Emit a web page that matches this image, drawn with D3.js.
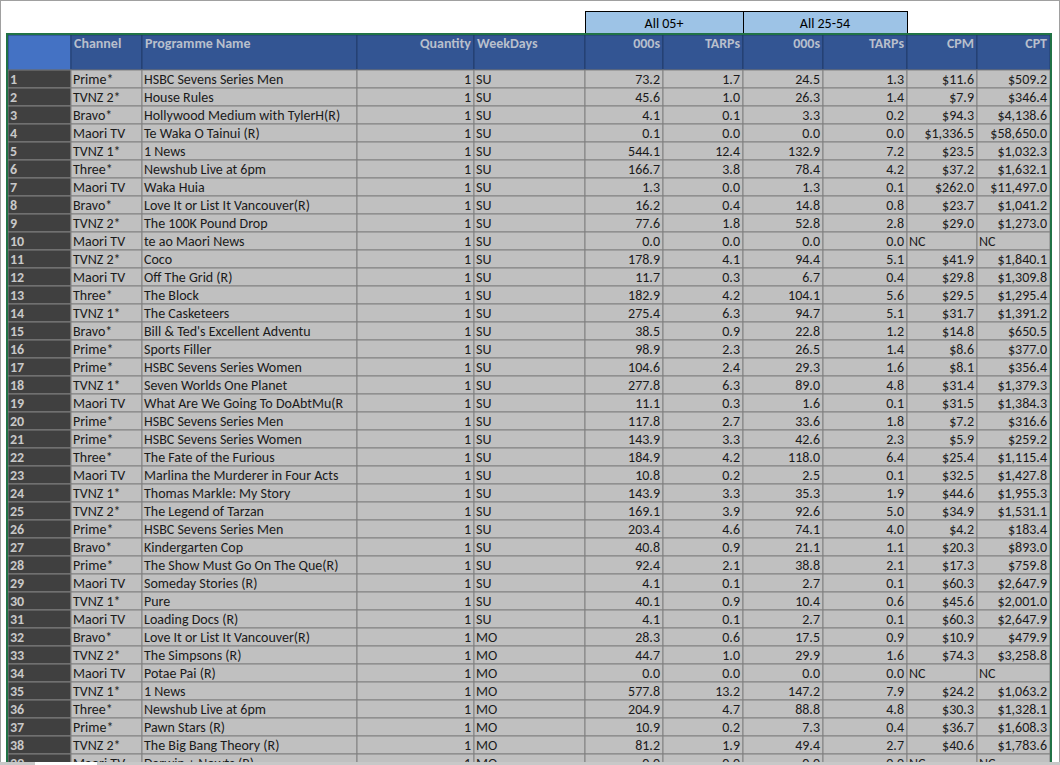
<!DOCTYPE html>
<html><head><meta charset="utf-8">
<script src="https://cdn.jsdelivr.net/npm/d3@7"></script>
<style>
html,body{margin:0;padding:0;background:#fff;overflow:hidden}
svg{display:block;font-family:Carlito,Calibri,Lato,"Open Sans",sans-serif}
</style></head><body>
<div id="chart"></div>
<script>
// table data
const channels = ['Prime*','TVNZ 2*','Bravo*','Maori TV','TVNZ 1*','Three*','Maori TV','Bravo*','TVNZ 2*','Maori TV',
  'TVNZ 2*','Maori TV','Three*','TVNZ 1*','Bravo*','Prime*','Prime*','TVNZ 1*','Maori TV','Prime*',
  'Prime*','Three*','Maori TV','TVNZ 1*','TVNZ 2*','Prime*','Bravo*','Prime*','Maori TV','TVNZ 1*',
  'Maori TV','Bravo*','TVNZ 2*','Maori TV','TVNZ 1*','Three*','Prime*','TVNZ 2*','Maori TV'];
const programmes = ['HSBC Sevens Series Men','House Rules','Hollywood Medium with TylerH(R)','Te Waka O Tainui (R)','1 News',
  'Newshub Live at 6pm','Waka Huia','Love It or List It Vancouver(R)','The 100K Pound Drop','te ao Maori News',
  'Coco','Off The Grid (R)','The Block','The Casketeers','Bill & Ted\'s Excellent Adventu',
  'Sports Filler','HSBC Sevens Series Women','Seven Worlds One Planet','What Are We Going To DoAbtMu(R','HSBC Sevens Series Men',
  'HSBC Sevens Series Women','The Fate of the Furious','Marlina the Murderer in Four Acts','Thomas Markle: My Story','The Legend of Tarzan',
  'HSBC Sevens Series Men','Kindergarten Cop','The Show Must Go On The Que(R)','Someday Stories (R)','Pure',
  'Loading Docs (R)','Love It or List It Vancouver(R)','The Simpsons (R)','Potae Pai (R)','1 News',
  'Newshub Live at 6pm','Pawn Stars (R)','The Big Bang Theory (R)','Darwin + Nowts (R)'];
const quantity = Array(39).fill(1);
const weekdays = [...Array(31).fill('SU'), ...Array(8).fill('MO')];
const all05k = [73.2,45.6,4.1,0.1,544.1,166.7,1.3,16.2,77.6,0.0,178.9,11.7,182.9,275.4,38.5,98.9,104.6,277.8,11.1,117.8,
  143.9,184.9,10.8,143.9,169.1,203.4,40.8,92.4,4.1,40.1,4.1,28.3,44.7,0.0,577.8,204.9,10.9,81.2,0.0];
const all05t = [1.7,1.0,0.1,0.0,12.4,3.8,0.0,0.4,1.8,0.0,4.1,0.3,4.2,6.3,0.9,2.3,2.4,6.3,0.3,2.7,
  3.3,4.2,0.2,3.3,3.9,4.6,0.9,2.1,0.1,0.9,0.1,0.6,1.0,0.0,13.2,4.7,0.2,1.9,0.0];
const a2554k = [24.5,26.3,3.3,0.0,132.9,78.4,1.3,14.8,52.8,0.0,94.4,6.7,104.1,94.7,22.8,26.5,29.3,89.0,1.6,33.6,
  42.6,118.0,2.5,35.3,92.6,74.1,21.1,38.8,2.7,10.4,2.7,17.5,29.9,0.0,147.2,88.8,7.3,49.4,0.0];
const a2554t = [1.3,1.4,0.2,0.0,7.2,4.2,0.1,0.8,2.8,0.0,5.1,0.4,5.6,5.1,1.2,1.4,1.6,4.8,0.1,1.8,
  2.3,6.4,0.1,1.9,5.0,4.0,1.1,2.1,0.1,0.6,0.1,0.9,1.6,0.0,7.9,4.8,0.4,2.7,0.0];
const cpm = ['$11.6','$7.9','$94.3','$1,336.5','$23.5','$37.2','$262.0','$23.7','$29.0','NC',
  '$41.9','$29.8','$29.5','$31.7','$14.8','$8.6','$8.1','$31.4','$31.5','$7.2',
  '$5.9','$25.4','$32.5','$44.6','$34.9','$4.2','$20.3','$17.3','$60.3','$45.6',
  '$60.3','$10.9','$74.3','NC','$24.2','$30.3','$36.7','$40.6','NC'];
const cpt = ['$509.2','$346.4','$4,138.6','$58,650.0','$1,032.3','$1,632.1','$11,497.0','$1,041.2','$1,273.0','NC',
  '$1,840.1','$1,309.8','$1,295.4','$1,391.2','$650.5','$377.0','$356.4','$1,379.3','$1,384.3','$316.6',
  '$259.2','$1,115.4','$1,427.8','$1,955.3','$1,531.1','$183.4','$893.0','$759.8','$2,647.9','$2,001.0',
  '$2,647.9','$479.9','$3,258.8','NC','$1,063.2','$1,328.1','$1,608.3','$1,783.6','NC'];
const headers = ['','Channel','Programme Name','Quantity','WeekDays','000s','TARPs','000s','TARPs','CPM','CPT'];
const groups = [{label:'All 05+', from:5, to:6}, {label:'All 25-54', from:7, to:8}];

const W = 1060, H = 765, FS = 14;
const edges = [8,71,142,357,474,585,663,743,823,907,977,1050];
const align = ['start','start','start','end','start','end','end','end','end','end','end'];
const f1 = d3.format('.1f');
const rows = channels.map((c,i) => [String(i+1), c, programmes[i], String(quantity[i]), weekdays[i],
  f1(all05k[i]), f1(all05t[i]), f1(a2554k[i]), f1(a2554t[i]), cpm[i], cpt[i]]);
// NC cells are text, so left aligned
const cellAlign = (v, j) => (v === 'NC') ? 'start' : align[j];

const y = d3.scaleBand().domain(d3.range(rows.length)).range([70, 70 + 18*rows.length]);

const svg = d3.select('#chart').append('svg').attr('width', W).attr('height', H);
svg.append('rect').attr('x',0.5).attr('y',0.5).attr('width',W-1).attr('height',H+5)
  .attr('fill','#fff').attr('stroke','#a0a0a0');

const defs = svg.append('defs');
edges.slice(0,-1).forEach((e,j) => {
  defs.append('clipPath').attr('id','col'+j).append('rect')
    .attr('x', e).attr('y', 0).attr('width', edges[j+1]-e).attr('height', H);
});

groups.forEach(g => {
  svg.append('rect').attr('x', edges[g.from]+0.5).attr('y', 11.5)
    .attr('width', edges[g.to+1]-edges[g.from]).attr('height', 23)
    .attr('fill','#9dc3e6').attr('stroke','#000');
  svg.append('text').attr('x', (edges[g.from]+edges[g.to+1])/2).attr('y', 28)
    .attr('text-anchor','middle').attr('font-size',FS).attr('fill','#000').text(g.label);
});

headers.forEach((h,j) => {
  svg.append('rect').attr('x', edges[j]).attr('y', 35).attr('width', edges[j+1]-edges[j]).attr('height', 35)
    .attr('fill', j === 0 ? '#4472c4' : '#335593').attr('stroke','#1f3864').attr('stroke-width',0.8);
  svg.append('text').attr('x', align[j]==='end' ? edges[j+1]-3 : edges[j]+3).attr('y', 48)
    .attr('text-anchor', align[j]).attr('font-size',FS).attr('font-weight','bold')
    .attr('fill','#b8bfcc').text(h);
});

const g = svg.append('g');
rows.forEach((r,i) => {
  r.forEach((v,j) => {
    g.append('rect').attr('x', edges[j]).attr('y', y(i)).attr('width', edges[j+1]-edges[j]).attr('height', y.bandwidth())
      .attr('fill', j === 0 ? '#404040' : '#c0c0c0').attr('stroke','#808080').attr('stroke-width',1);
    const a = cellAlign(v,j);
    g.append('text').attr('x', a==='end' ? edges[j+1]-3 : edges[j]+2).attr('y', y(i)+14)
      .attr('clip-path', j === 2 ? 'url(#col2)' : null)
      .attr('text-anchor', a).attr('font-size',FS)
      .attr('font-weight', j === 0 ? 'bold' : 'normal')
      .attr('fill', j === 0 ? '#c8c8c8' : '#1a1a1a').text(v);
  });
});

svg.append('rect').attr('x',7).attr('y',34).attr('width',1044).attr('height',H)
  .attr('fill','none').attr('stroke','#217346').attr('stroke-width',2);
svg.append('rect').attr('x',0).attr('y',H-3).attr('width',W).attr('height',3).attr('fill','#c8c8c8');
svg.append('rect').attr('x',35).attr('y',H-3).attr('width',62).attr('height',3).attr('fill','#fff');
</script></body></html>
